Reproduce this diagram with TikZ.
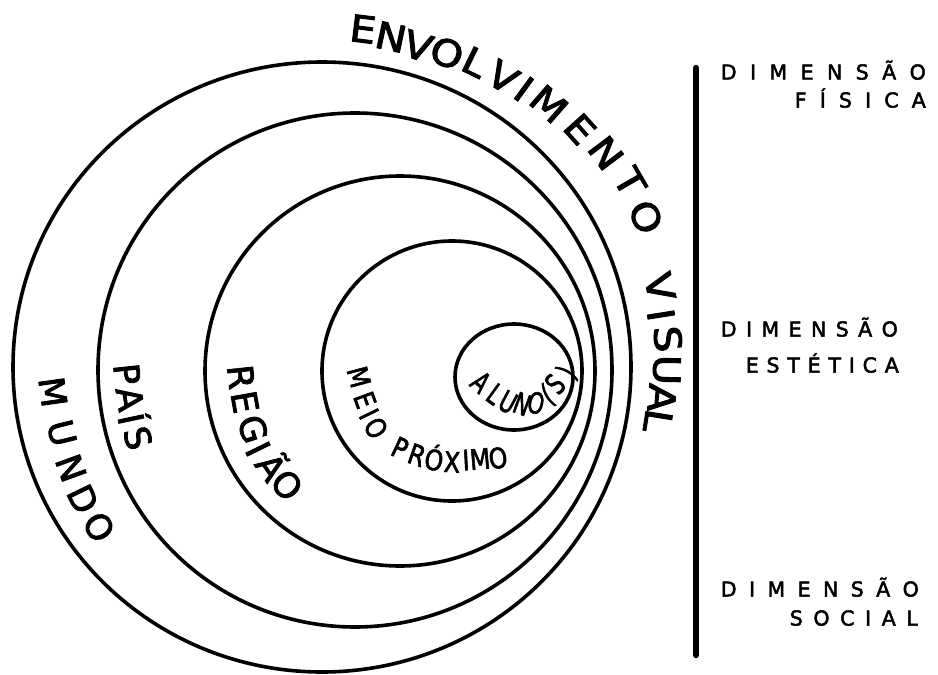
\documentclass[tikz,border=0pt]{standalone}
\usepackage{fontspec}
\setmainfont{DejaVu Sans}[FakeBold=2.4]
\newfontfamily\dimfont{DejaVu Sans}[FakeBold=2.4]
\begin{document}
\begin{tikzpicture}[x=1pt,y=-1pt,
  ring/.style={line width=3.6pt},
  bigl/.style={inner sep=0pt, font=\fontsize{37}{37}\selectfont, text height=27pt, text depth=0pt},
  midl/.style={inner sep=0pt, font=\fontsize{35}{35}\selectfont, text height=25.5pt, text depth=0pt},
  smll/.style={inner sep=0pt, font=\fontsize{28}{28}\selectfont, text height=20.4pt, text depth=0pt},
  alul/.style={inner sep=0pt, font=\fontsize{29}{29}\selectfont, text height=21.1pt, text depth=0pt},
  dim/.style={inner sep=0pt, anchor=east, font=\dimfont\fontsize{20.5}{20.5}\selectfont, text height=15pt, text depth=0pt}
]
\useasboundingbox (0,0) rectangle (938,675);

% circles
\coordinate (cMundo) at (322,367);
\coordinate (cPais) at (355,370);
\coordinate (cRegiao) at (400,371);
\coordinate (cMeio) at (452,371);
\coordinate (cAluno) at (514,377);
\draw[ring] (cMundo) ellipse [x radius=309pt, y radius=305pt];
\draw[ring] (cPais) circle [radius=257pt];
\draw[ring] (cRegiao) circle [radius=195pt];
\draw[ring] (cMeio) circle [radius=130pt];
\draw[ring] (cAluno) ellipse [x radius=59pt, y radius=53pt];

% vertical bar
\coordinate (barTop) at (696,68);
\coordinate (barBot) at (696,655);
\draw[line width=6.5pt, line cap=round] (barTop) -- (barBot);

% ENVOLVIMENTO VISUAL
\foreach \c/\x/\y/\r [count=\i] in {E/363/29/-7, N/391/37/-12, V/418/46/-17, O/447/53/-22, L/475/62/-26, V/503/77/-32, I/524/89/-36, M/549/104/-41, E/580/129/-48, N/606/153/-53, T/630/182/-60, O/646/217/-65, V/660/287/-77, I/661/315/-81, S/668/339/-85, U/667/370/-91, A/662/398/-95, L/658/421/-99}
  \node[bigl, rotate=\r, xscale=1.12] (env\i) at (\x,\y) {\c};

% MUNDO
\foreach \c/\x/\y/\r [count=\i] in {M/53/392/-82, U/62/433/-76, N/71/468/-70, D/83/499/-64, O/99/527/-58}
  \node[midl, rotate=\r] (mun\i) at (\x,\y) {\c};

% PAÍS
\foreach \c/\x/\y/\r [count=\i] in {P/127/374/-84, A/130/399/-81, Í/131/419/-78, S/138/438/-74}
  \node[midl, rotate=\r] (pai\i) at (\x,\y) {\c};

% REGIÃO
\foreach \c/\x/\y/\r [count=\i] in {R/241/377/-84, E/245/402/-80, G/253/429/-72, I/258/449/-64, Ã/271/467/-55, O/287/485/-48}
  \node[midl, rotate=\r] (reg\i) at (\x,\y) {\c};

% MEIO PRÓXIMO
\foreach \c/\x/\y/\r [count=\i] in {M/359/377/-75, E/365/400/-70, I/369/414/-64, O/376/428/-58, P/400/448/-25, R/417/455/-19, Ó/434/460/-11, X/452/462/-3, I/466/460/3, M/480/459/5, O/498/458/8}
  \node[smll, rotate=\r, xscale=0.85] (mei\i) at (\x,\y) {\c};

% ALUNO(S)
\foreach \c/\x/\y/\r [count=\i] in {A/481/382/-42, L/495/394/-36, U/508/402/-28, N/522/404/-20, O/536/403/-12, {(}/547/394/30, S/555/384/48, {)}/566/372/60}
  \node[alul, rotate=\r, xscale=0.72] (alu\i) at (\x,\y) {\c};

% right labels
\node[dim] (d1a) at (926,72) {\makebox[205pt][s]{D\hfill I\hfill M\hfill E\hfill N\hfill S\hfill Ã\hfill O}};
\node[dim] (d1b) at (926,100) {\makebox[131pt][s]{F\hfill Í\hfill S\hfill I\hfill C\hfill A}};
\node[dim] (d2a) at (898,329) {\makebox[177pt][s]{D\hfill I\hfill M\hfill E\hfill N\hfill S\hfill Ã\hfill O}};
\node[dim] (d2b) at (899,365) {\makebox[153pt][s]{E\hfill S\hfill T\hfill É\hfill T\hfill I\hfill C\hfill A}};
\node[dim] (d3a) at (919,589) {\makebox[198pt][s]{D\hfill I\hfill M\hfill E\hfill N\hfill S\hfill Ã\hfill O}};
\node[dim] (d3b) at (918,618) {\makebox[128pt][s]{S\hfill O\hfill C\hfill I\hfill A\hfill L}};
\end{tikzpicture}
\end{document}
